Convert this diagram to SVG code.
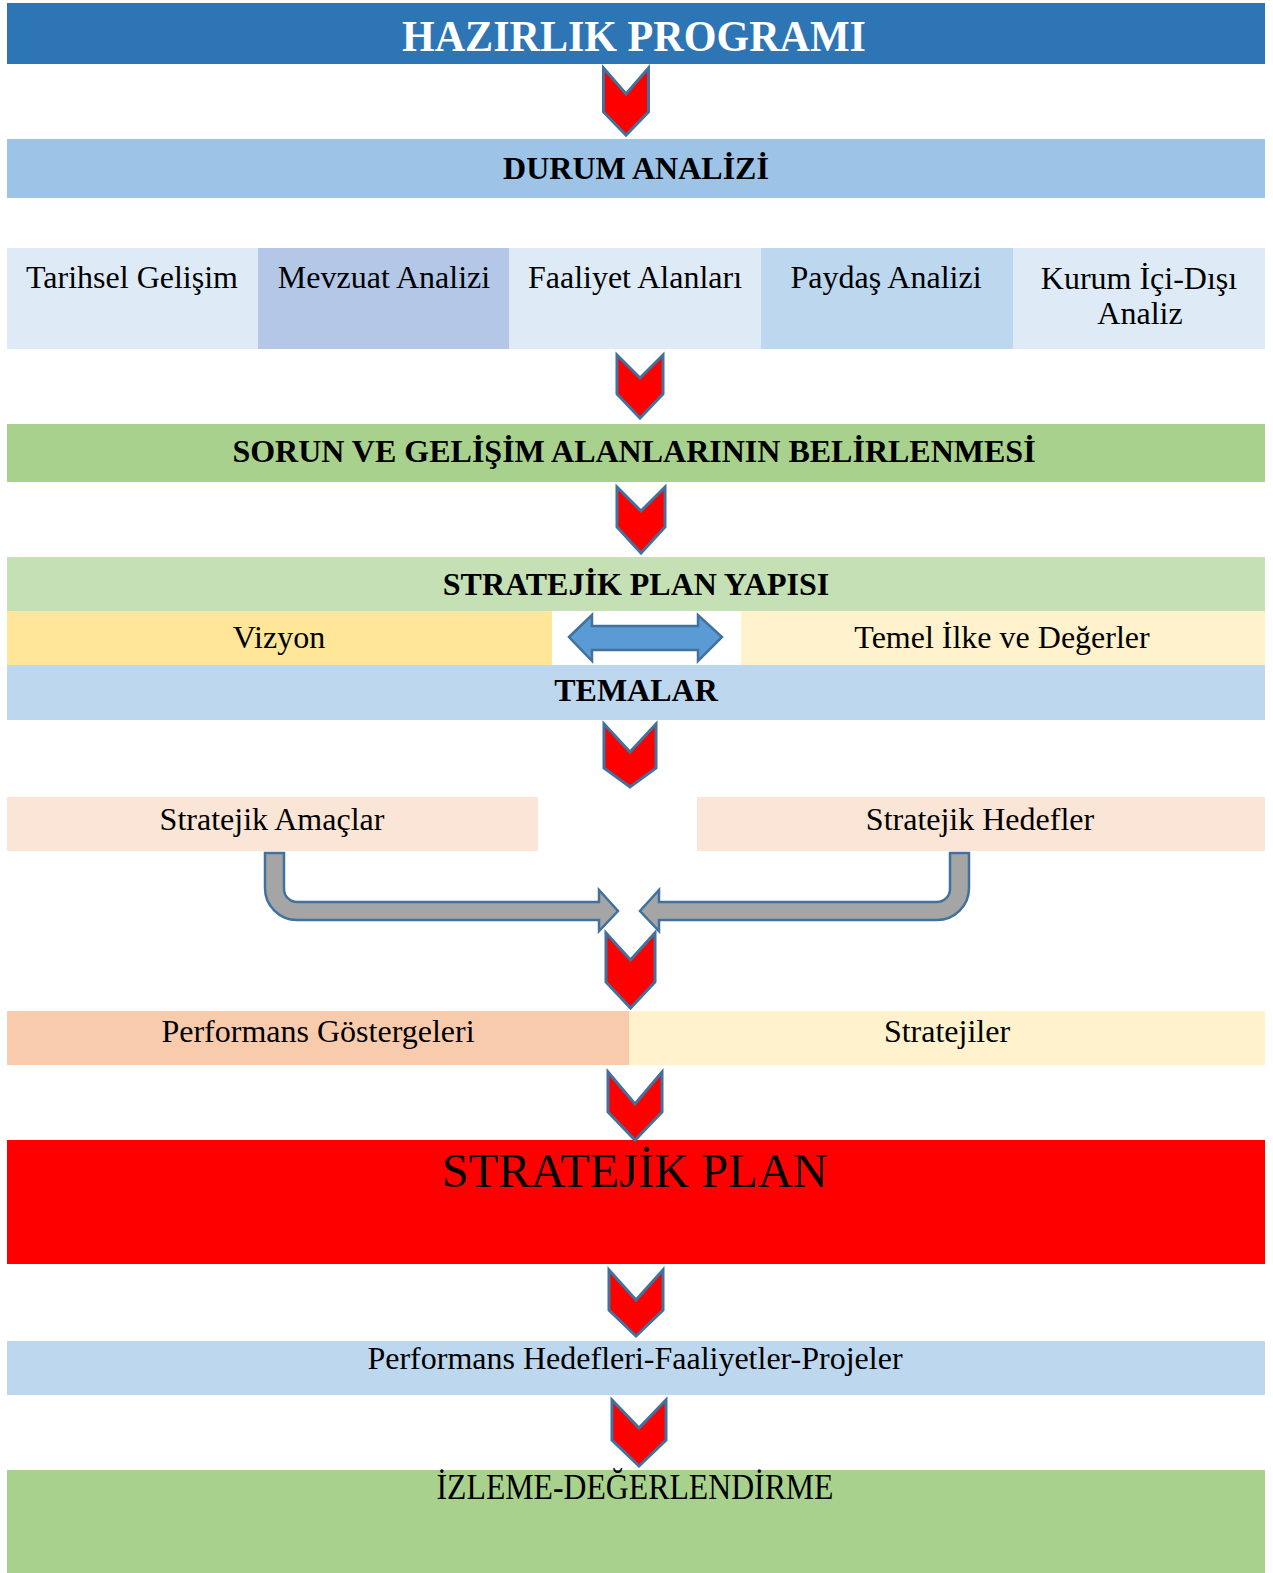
<svg xmlns="http://www.w3.org/2000/svg" width="1273" height="1573" viewBox="0 0 1273 1573">
<style>
text{font-family:"Liberation Serif","Times New Roman",serif;fill:#000;text-anchor:middle}
.t{font-size:32px}
.b{font-size:32px;font-weight:bold}
.chev{fill:#FF0000;stroke:#41719C;stroke-width:3;stroke-linejoin:miter}
.bent{fill:#A5A5A5;stroke:#41719C;stroke-width:2.5}
</style>
<rect width="1273" height="1573" fill="#FFFFFF"/>
<g id="hazirlik">
<rect x="7" y="3" width="1258" height="61" fill="#2E75B6"/>
<text x="634" y="51" style="font-size:45px;font-weight:bold;fill:#FFFFFF" textLength="464" lengthAdjust="spacingAndGlyphs">HAZIRLIK PROGRAMI</text>
</g>
<g id="durum">
<rect x="7" y="139" width="1258" height="59" fill="#9DC3E6"/>
<text class="b" x="636" y="179">DURUM ANALİZİ</text>
</g>
<g id="tarihsel">
<rect x="7" y="248" width="251" height="101" fill="#DEEBF7"/>
<text class="t" x="132" y="288">Tarihsel Gelişim</text>
</g>
<g id="mevzuat">
<rect x="258" y="248" width="251" height="101" fill="#B4C7E7"/>
<text class="t" x="384" y="288">Mevzuat Analizi</text>
</g>
<g id="faaliyet">
<rect x="509" y="248" width="252" height="101" fill="#DEEBF7"/>
<text class="t" x="635" y="288">Faaliyet Alanları</text>
</g>
<g id="paydas">
<rect x="761" y="248" width="252" height="101" fill="#BDD7EE"/>
<text class="t" x="886" y="288">Paydaş Analizi</text>
</g>
<g id="kurum">
<rect x="1013" y="248" width="252" height="101" fill="#DEEBF7"/>
<text class="t" x="1139" y="289">Kurum İçi-Dışı</text>
<text class="t" x="1140" y="324">Analiz</text>
</g>
<g id="sorun">
<rect x="7" y="424" width="1258" height="58" fill="#A9D18E"/>
<text class="b" x="634" y="462">SORUN VE GELİŞİM ALANLARININ BELİRLENMESİ</text>
</g>
<g id="yapi">
<rect x="7" y="557" width="1258" height="54" fill="#C5E0B4"/>
<text class="b" x="636" y="595">STRATEJİK PLAN YAPISI</text>
</g>
<g id="vizyon">
<rect x="7" y="611" width="545" height="54" fill="#FFE699"/>
<text class="t" x="279" y="648">Vizyon</text>
</g>
<g id="temel">
<rect x="741" y="611" width="524" height="54" fill="#FFF2CC"/>
<text class="t" x="1002" y="648">Temel İlke ve Değerler</text>
</g>
<g id="temalar">
<rect x="7" y="665" width="1258" height="55" fill="#BDD7EE"/>
<text class="b" x="636" y="701">TEMALAR</text>
</g>
<g id="amaclar">
<rect x="7" y="797" width="531" height="54" fill="#FBE5D6"/>
<text class="t" x="272" y="830">Stratejik Amaçlar</text>
</g>
<g id="hedefler">
<rect x="697" y="797" width="568" height="54" fill="#FBE5D6"/>
<text class="t" x="980" y="830">Stratejik Hedefler</text>
</g>
<g id="gostergeler">
<rect x="7" y="1011" width="622" height="54" fill="#F8CBAD"/>
<text class="t" x="318" y="1042">Performans Göstergeleri</text>
</g>
<g id="stratejiler">
<rect x="629" y="1011" width="636" height="54" fill="#FFF2CC"/>
<text class="t" x="947" y="1042">Stratejiler</text>
</g>
<g id="plan">
<rect x="7" y="1140" width="1258" height="124" fill="#FF0000"/>
<text x="635" y="1187" style="font-size:48px" textLength="386" lengthAdjust="spacingAndGlyphs">STRATEJİK PLAN</text>
</g>
<g id="perfhedef">
<rect x="7" y="1341" width="1258" height="54" fill="#BDD7EE"/>
<text class="t" x="635" y="1369">Performans Hedefleri-Faaliyetler-Projeler</text>
</g>
<g id="izleme">
<rect x="7" y="1470" width="1258" height="103" fill="#A9D18E"/>
<text x="635" y="1499" style="font-size:35px" textLength="397" lengthAdjust="spacingAndGlyphs">İZLEME-DEĞERLENDİRME</text>
</g>
<g id="connectors">
<polygon class="chev" points="603.5,68 626,94 648.5,68 648.5,112 626,135 603.5,112"/>
<polygon class="chev" points="617,355 640,378 663,355 663,394 640,418 617,394"/>
<polygon class="chev" points="617,487 641,511 665,487 665,527 641,553 617,527"/>
<polygon class="chev" points="604,724 630,752 656,724 656,768 630,787 604,768"/>
<path class="bent" d="M265 853 L284 853 L284 889 A13 13 0 0 0 297 902 L599 902 L599 890 L618 911 L599 931 L599 920 L297 920 A32 32 0 0 1 265 888 Z"/>
<path class="bent" d="M950 853 L969 853 L969 888 A32 32 0 0 1 937 920 L659 920 L659 931 L640 911 L659 890 L659 902 L937 902 A13 13 0 0 0 950 889 Z"/>
<polygon class="chev" points="606,933 630.5,960 655,933 655,982 630.5,1008 606,982"/>
<polygon class="chev" points="608,1072 635,1104 662,1072 662,1112 635,1140 608,1112"/>
<polygon class="chev" points="609,1270 636,1300 663,1270 663,1310 636,1336 609,1310"/>
<polygon class="chev" points="612,1400 639,1428 666,1400 666,1440 639,1466 612,1440"/>
<polygon points="569,637 592,615 592,626 698,626 698,615 722,637 698,661 698,650 592,650 592,661" fill="#5B9BD5" stroke="#41719C" stroke-width="2.5"/>
</g>
</svg>
